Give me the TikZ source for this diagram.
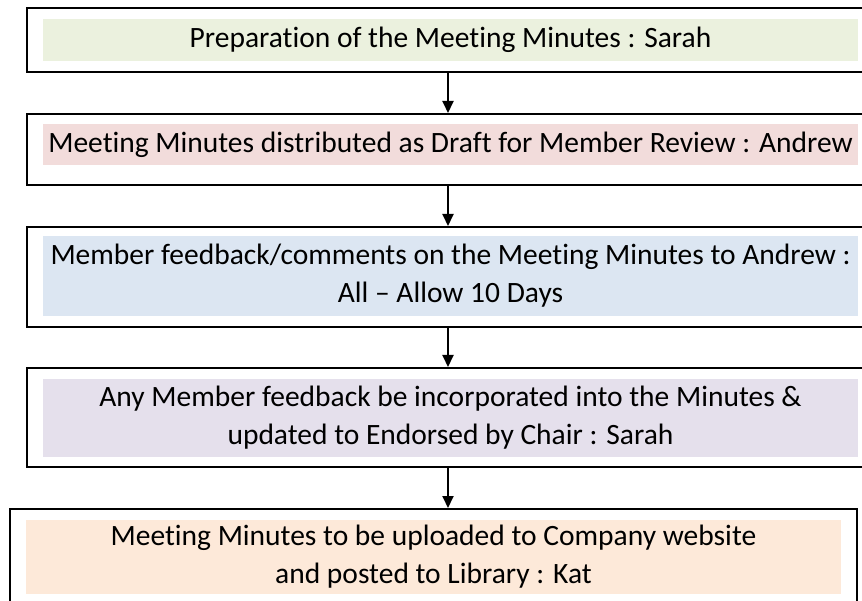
\documentclass[tikz,border=0pt]{standalone}
\usepackage{fontspec}
\setmainfont{Carlito}[Ligatures={TeX,NoCommon}]
\usetikzlibrary{arrows.meta, positioning, calc}
\definecolor{StepGreen}{HTML}{EBF1DE}
\definecolor{StepRed}{HTML}{F2DCDB}
\definecolor{StepBlue}{HTML}{DCE6F2}
\definecolor{StepPurple}{HTML}{E5E0EC}
\definecolor{StepOrange}{HTML}{FDE9D9}

\begin{document}
\begin{tikzpicture}[x=1pt, y=-1pt, font=\fontsize{29.5}{38}\selectfont,
    frame/.style={draw=black, line width=2pt, minimum width=842pt, inner sep=0pt},
    band/.style={inner sep=0pt, minimum width=815pt, align=center, text=black},
    flow/.style={line width=2pt, -{Triangle[length=12pt, width=11pt]}}]

\useasboundingbox (0,0) rectangle (862,601);
\clip (0,0) rectangle (862,601);

% marcos
\node[frame, minimum height=64pt] (f1) at (448,40) {};
\node[frame, minimum height=71pt] (f2) at (448,149.5) {};
\node[frame, minimum height=100pt] (f3) at (448,277) {};
\node[frame, minimum height=99pt] (f4) at (448,417.5) {};
\node[frame, minimum width=847pt, minimum height=111pt] (f5) at (433.5,564.5) {};

% textos
\node[band, fill=StepGreen, minimum height=42pt] (s1) at (450.5,40)
    {Preparation of the Meeting Minutes : Sarah};
\node[band, fill=StepRed, minimum height=41pt] (s2) at (450.5,144.5)
    {Meeting Minutes distributed as Draft for Member Review : Andrew};
\node[band, fill=StepBlue, minimum height=80pt] (s3) at (450.5,276)
    {Member feedback/comments on the Meeting Minutes to Andrew :\\All \textendash{} Allow 10 Days};
\node[band, fill=StepPurple, minimum height=78pt] (s4) at (450.5,418)
    {Any Member feedback be incorporated into the Minutes \&\\updated to Endorsed by Chair : Sarah};
\node[band, fill=StepOrange, minimum height=74pt] (s5) at (433.5,557)
    {Meeting Minutes to be uploaded to Company website\\and posted to Library : Kat};

% flechas
\foreach \a/\b in {f1/f2, f2/f3, f3/f4, f4/f5}
    \draw[flow] (\a.south) -- (\a.south |- \b.north);

\end{tikzpicture}
\end{document}
